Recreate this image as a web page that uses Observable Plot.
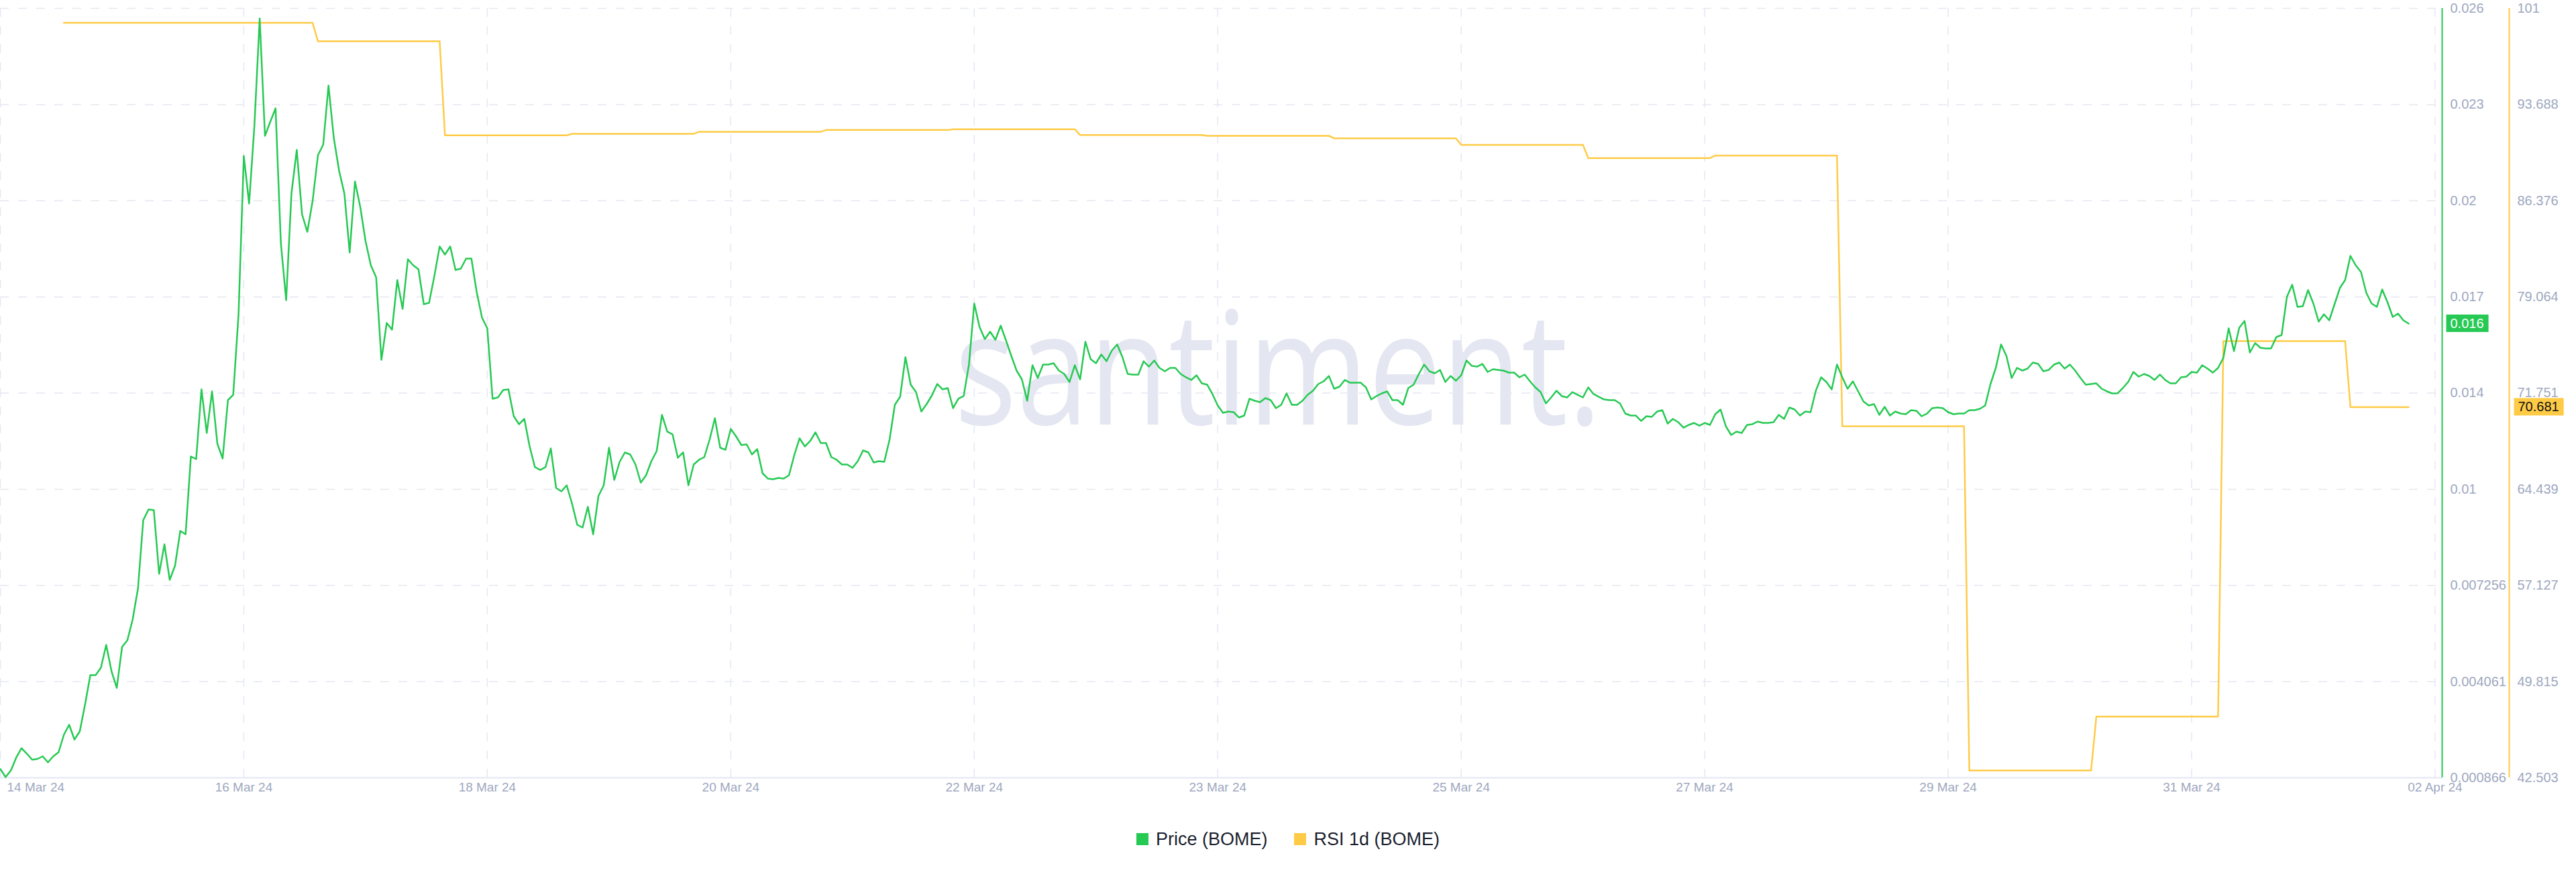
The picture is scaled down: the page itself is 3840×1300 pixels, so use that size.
<!DOCTYPE html>
<html><head><meta charset="utf-8">
<script src="https://cdn.jsdelivr.net/npm/d3@7"></script>
<script src="https://cdn.jsdelivr.net/npm/@observablehq/plot@0.6"></script>
<style>
html,body{margin:0;padding:0;background:#fff;}
#chart{width:3840px;height:1200px;}
#legend{height:102px;display:flex;justify-content:center;align-items:center;font-family:"Liberation Sans",Arial,sans-serif;font-size:27px;color:#1b1f2e;}
.item{display:flex;align-items:center;margin:0 20px;}
.sw{width:18px;height:18px;margin-right:11px;}
</style></head><body>
<div id="chart"></div><div id="legend"></div>
<script>
// ---------- data ----------
const startTime = "2024-03-14T09:00:00Z";   // first hourly price sample
const endTime = "2024-04-02T14:20:00Z";     // right edge of the time axis
const seriesNames = ["Price (BOME)", "RSI 1d (BOME)"];
const seriesColors = ["#26c953", "#ffcb47"];

// hourly price of BOME (USD)
const priceValues = [
0.001156,0.000888,0.001111,0.001535,0.001847,0.001668,0.001468,0.001490,0.001579,0.001379,
0.001579,0.001713,0.002292,0.002626,0.002136,0.002404,0.003295,0.004275,0.004275,0.004521,
0.005278,0.004409,0.003852,0.005211,0.005434,0.006125,0.007150,0.009423,0.009780,0.009757,
0.007640,0.008621,0.007440,0.007908,0.009067,0.008955,0.011540,0.011451,0.013769,0.012320,
0.013702,0.011964,0.011473,0.013412,0.013590,0.016242,0.021523,0.019941,0.022526,0.026092,
0.022192,0.022660,0.023106,0.018627,0.016732,0.020276,0.021724,0.019585,0.019005,0.020030,
0.021546,0.021902,0.023863,0.022125,0.021033,0.020276,0.018315,0.020677,0.019830,0.018693,
0.017891,0.017490,0.014749,0.015975,0.015752,0.017401,0.016443,0.018092,0.017891,0.017757,
0.016599,0.016643,0.017535,0.018515,0.018248,0.018515,0.017735,0.017780,0.018114,0.018114,
0.017000,0.016153,0.015796,0.013457,0.013501,0.013746,0.013769,0.012877,0.012610,0.012788,
0.011874,0.011184,0.011094,0.011184,0.011808,0.010493,0.010381,0.010582,0.009980,0.009267,
0.009178,0.009869,0.008955,0.010225,0.010582,0.011830,0.010760,0.011362,0.011674,0.011607,
0.011273,0.010671,0.010916,0.011384,0.011718,0.012922,0.012365,0.012275,0.011496,0.011674,
0.010582,0.011273,0.011429,0.011518,0.012097,0.012810,0.011830,0.011763,0.012454,0.012209,
0.011919,0.011941,0.011607,0.011785,0.010983,0.010805,0.010782,0.010827,0.010805,0.010916,
0.011585,0.012142,0.011874,0.012053,0.012342,0.011986,0.011986,0.011518,0.011429,0.011273,
0.011273,0.011161,0.011384,0.011741,0.011674,0.011340,0.011384,0.011362,0.012097,0.013256,
0.013523,0.014838,0.013925,0.013679,0.013033,0.013278,0.013568,0.013947,0.013769,0.013813,
0.013145,0.013457,0.013546,0.014593,0.016621,0.015841,0.015440,0.015685,0.015418,0.015886,
0.015395,0.014883,0.014393,0.014103,0.013390,0.014571,0.014147,0.014593,0.014593,0.014638,
0.014393,0.014281,0.014014,0.014571,0.014103,0.015351,0.014771,0.014638,0.014927,0.014704,
0.015061,0.015262,0.014838,0.014281,0.014259,0.014259,0.014704,0.014526,0.014727,0.014482,
0.014370,0.014482,0.014482,0.014281,0.014170,0.014081,0.014237,0.013969,0.013925,0.013613,
0.013234,0.012989,0.013033,0.013011,0.012833,0.012899,0.013457,0.013390,0.013345,0.013479,
0.013412,0.013145,0.013256,0.013635,0.013256,0.013256,0.013390,0.013590,0.013724,0.013947,
0.014036,0.014214,0.013791,0.013858,0.014081,0.013991,0.013991,0.013991,0.013835,0.013434,
0.013546,0.013635,0.013702,0.013412,0.013412,0.013256,0.013813,0.013925,0.014281,0.014593,
0.014370,0.014303,0.014415,0.014014,0.014214,0.014058,0.014237,0.014727,0.014549,0.014526,
0.014615,0.014348,0.014437,0.014415,0.014393,0.014326,0.014326,0.014170,0.014259,0.014036,
0.013835,0.013679,0.013301,0.013501,0.013724,0.013546,0.013501,0.013679,0.013590,0.013501,
0.013835,0.013613,0.013523,0.013434,0.013412,0.013412,0.013301,0.012966,0.012899,0.012899,
0.012721,0.012877,0.012855,0.013033,0.013078,0.012632,0.012788,0.012677,0.012498,0.012588,
0.012654,0.012565,0.012654,0.012588,0.012944,0.013100,0.012543,0.012253,0.012365,0.012320,
0.012588,0.012610,0.012699,0.012654,0.012654,0.012677,0.012922,0.012788,0.013167,0.013100,
0.012899,0.013033,0.013011,0.013724,0.014170,0.014014,0.013769,0.014593,0.014170,0.013791,
0.014036,0.013702,0.013367,0.013234,0.013278,0.012922,0.013189,0.012899,0.013033,0.012966,
0.012944,0.013078,0.013056,0.012877,0.012966,0.013145,0.013167,0.013145,0.013011,0.012944,
0.012966,0.012966,0.013078,0.013078,0.013122,0.013234,0.013947,0.014482,0.015262,0.014883,
0.014147,0.014482,0.014393,0.014459,0.014660,0.014615,0.014370,0.014415,0.014593,0.014660,
0.014459,0.014593,0.014393,0.014147,0.013925,0.013947,0.013969,0.013791,0.013702,0.013635,
0.013635,0.013813,0.014014,0.014348,0.014192,0.014281,0.014214,0.014081,0.014259,0.014081,
0.013969,0.013969,0.014170,0.014192,0.014348,0.014326,0.014571,0.014459,0.014326,0.014482,
0.014816,0.015796,0.015039,0.015819,0.016042,0.014994,0.015306,0.015150,0.015128,0.015128,
0.015507,0.015574,0.016844,0.017245,0.016510,0.016532,0.017067,0.016621,0.016019,0.016264,
0.016064,0.016599,0.017133,0.017401,0.018203,0.017891,0.017668,0.016977,0.016621,0.016510,
0.017089,0.016666,0.016175,0.016287,0.016064,0.015952
];

// daily RSI (1d) value, each holding from its start hour until the next day starts
const rsiDayStarts = [
"2024-03-14T21:00:00Z","2024-03-15T21:00:00Z","2024-03-16T21:00:00Z","2024-03-17T21:00:00Z",
"2024-03-18T21:00:00Z","2024-03-19T21:00:00Z","2024-03-20T21:00:00Z","2024-03-21T21:00:00Z",
"2024-03-22T21:00:00Z","2024-03-23T21:00:00Z","2024-03-24T21:00:00Z","2024-03-25T21:00:00Z",
"2024-03-26T21:00:00Z","2024-03-27T21:00:00Z","2024-03-28T21:00:00Z","2024-03-29T21:00:00Z",
"2024-03-30T21:00:00Z","2024-03-31T21:00:00Z","2024-04-01T21:00:00Z"
];
const rsiDayValues = [
99.9, 99.9, 98.5, 91.35, 91.46, 91.62, 91.75, 91.81, 91.37, 91.31,
91.12, 90.62, 89.62, 89.81, 69.23, 43.05, 47.16, 75.71, 70.681
];

// axis ticks
const priceTicks = [0.000866,0.004061,0.007256,0.010451,0.013646,0.016841,0.020036,0.023231,0.026426];
const priceTickLabels = ["0.000866","0.004061","0.007256","0.01","0.014","0.017","0.02","0.023","0.026"];
const rsiTicks = [42.503,49.815,57.127,64.439,71.751,79.064,86.376,93.688,101];
const rsiTickLabels = ["42.503","49.815","57.127","64.439","71.751","79.064","86.376","93.688","101"];
const dateTicks = [
"2024-03-14T09:00:00Z","2024-03-16T07:00:00Z","2024-03-18T05:00:00Z","2024-03-20T03:00:00Z",
"2024-03-22T01:00:00Z","2024-03-23T23:00:00Z","2024-03-25T21:00:00Z","2024-03-27T19:00:00Z",
"2024-03-29T17:00:00Z","2024-03-31T15:00:00Z","2024-04-02T13:00:00Z"
];
const dateTickLabels = ["14 Mar 24","16 Mar 24","18 Mar 24","20 Mar 24","22 Mar 24","23 Mar 24","25 Mar 24","27 Mar 24","29 Mar 24","31 Mar 24","02 Apr 24"];
const watermarkText = "santiment.";

// ---------- build tables ----------
const HOUR = 3600e3;
const t0 = new Date(startTime).getTime();
const priceData = priceValues.map((v, i) => ({date: new Date(t0 + i * HOUR), value: v}));
const lastDate = priceData[priceData.length - 1].date.getTime();
const rsiData = [];
rsiDayStarts.forEach((s, i) => {
  const a = new Date(s).getTime();
  const b = Math.min(a + 23 * HOUR, lastDate);
  rsiData.push({date: new Date(a), value: rsiDayValues[i]});
  rsiData.push({date: new Date(b), value: rsiDayValues[i]});
});
const rsiToPrice = d3.scaleLinear()
  .domain([rsiTicks[0], rsiTicks[rsiTicks.length - 1]])
  .range([priceTicks[0], priceTicks[priceTicks.length - 1]]);
const tickDates = dateTicks.map(d => new Date(d));
const lastPrice = priceValues[priceValues.length - 1];
const lastRsi = rsiDayValues[rsiDayValues.length - 1];

const GREEN = seriesColors[0], YELLOW = seriesColors[1];
const LABEL = "#9ea8bf", GRID = "#e5e8f2";

const chart = Plot.plot({
  width: 3840, height: 1200,
  marginLeft: 0, marginRight: 200, marginTop: 12, marginBottom: 41,
  style: {fontFamily: "'Liberation Sans', Arial, sans-serif", fontSize: "20px", background: "#fff", overflow: "visible"},
  x: {type: "utc", domain: [new Date(startTime), new Date(endTime)], axis: null},
  y: {domain: [priceTicks[0], priceTicks[priceTicks.length - 1]], axis: null},
  marks: [
    Plot.text([watermarkText], {text: d => d, frameAnchor: "middle", dx: 85, dy: -28, fontSize: 235,
      fontFamily: "'Open Sans', sans-serif", fontWeight: 400, fill: "#e4e7f1", ariaDescription: "watermark"}),
    Plot.gridY(priceTicks.slice(1), {stroke: GRID, strokeOpacity: 1, strokeWidth: 1.5, strokeDasharray: "13,14"}),
    Plot.gridX(tickDates, {stroke: GRID, strokeOpacity: 1, strokeWidth: 1.5, strokeDasharray: "13,14"}),
    Plot.ruleY([priceTicks[0]], {stroke: "#e3e7f5", strokeWidth: 2}),
    Plot.line(rsiData, {x: "date", y: d => rsiToPrice(d.value), stroke: YELLOW, strokeWidth: 2.5}),
    Plot.line(priceData, {x: "date", y: "value", stroke: GREEN, strokeWidth: 2.5}),
    Plot.ruleX([new Date(endTime)], {stroke: GREEN, strokeWidth: 2}),
    Plot.ruleX([new Date(endTime)], {stroke: YELLOW, strokeWidth: 2, dx: 100}),
    Plot.text(priceTicks, {y: d => d, text: (d, i) => priceTickLabels[i], frameAnchor: "right", dx: 12, textAnchor: "start", fill: LABEL, fontSize: 20}),
    Plot.text(rsiTicks, {y: d => rsiToPrice(d), text: (d, i) => rsiTickLabels[i], frameAnchor: "right", dx: 112, textAnchor: "start", fill: LABEL, fontSize: 20}),
    Plot.text(tickDates.slice(0, 1), {x: d => d, text: (d, i) => dateTickLabels[0], frameAnchor: "bottom", dy: 20, dx: 10, textAnchor: "start", fill: LABEL, fontSize: 19}),
    Plot.text(tickDates.slice(1), {x: d => d, text: (d, i) => dateTickLabels[i + 1], frameAnchor: "bottom", dy: 20, textAnchor: "middle", fill: LABEL, fontSize: 19}),
    Plot.text([lastPrice], {y: d => d, text: d => d3.format(".3f")(d), frameAnchor: "right", dx: 12, textAnchor: "start", fill: "#fff", fontSize: 20, ariaDescription: "price-badge"}),
    Plot.text([lastRsi], {y: d => rsiToPrice(d), text: d => d3.format(".3f")(d), frameAnchor: "right", dx: 113, textAnchor: "start", fill: "#111", fontSize: 20, ariaDescription: "rsi-badge"})
  ]
});
document.getElementById("chart").appendChild(chart);

// badge backgrounds & watermark width
function findTexts(desc, content) {
  let ts = Array.from(chart.querySelectorAll(`g[aria-description="${desc}"] text`));
  if (!ts.length) ts = Array.from(chart.querySelectorAll("text")).filter(t => t.textContent === content);
  return ts;
}
function badge(desc, content, color) {
  findTexts(desc, content).forEach(t => {
    const b = t.getBBox();
    const r = document.createElementNS("http://www.w3.org/2000/svg", "rect");
    r.setAttribute("x", b.x - 6); r.setAttribute("y", b.y + b.height / 2 - 13);
    r.setAttribute("width", b.width + 13); r.setAttribute("height", 26);
    r.setAttribute("fill", color);
    const tr = t.getAttribute("transform");
    if (tr) r.setAttribute("transform", tr);
    t.parentNode.insertBefore(r, t);
  });
}
badge("price-badge", d3.format(".3f")(lastPrice), GREEN);
badge("rsi-badge", d3.format(".3f")(lastRsi), YELLOW);
findTexts("watermark", watermarkText).forEach(t => {
  t.setAttribute("textLength", 965); t.setAttribute("lengthAdjust", "spacingAndGlyphs");
});

// legend
const legend = document.getElementById("legend");
seriesNames.forEach((n, i) => {
  const it = document.createElement("div"); it.className = "item";
  const sw = document.createElement("div"); sw.className = "sw"; sw.style.background = seriesColors[i];
  const tx = document.createElement("span"); tx.textContent = n;
  it.appendChild(sw); it.appendChild(tx); legend.appendChild(it);
});
</script>
</body></html>
